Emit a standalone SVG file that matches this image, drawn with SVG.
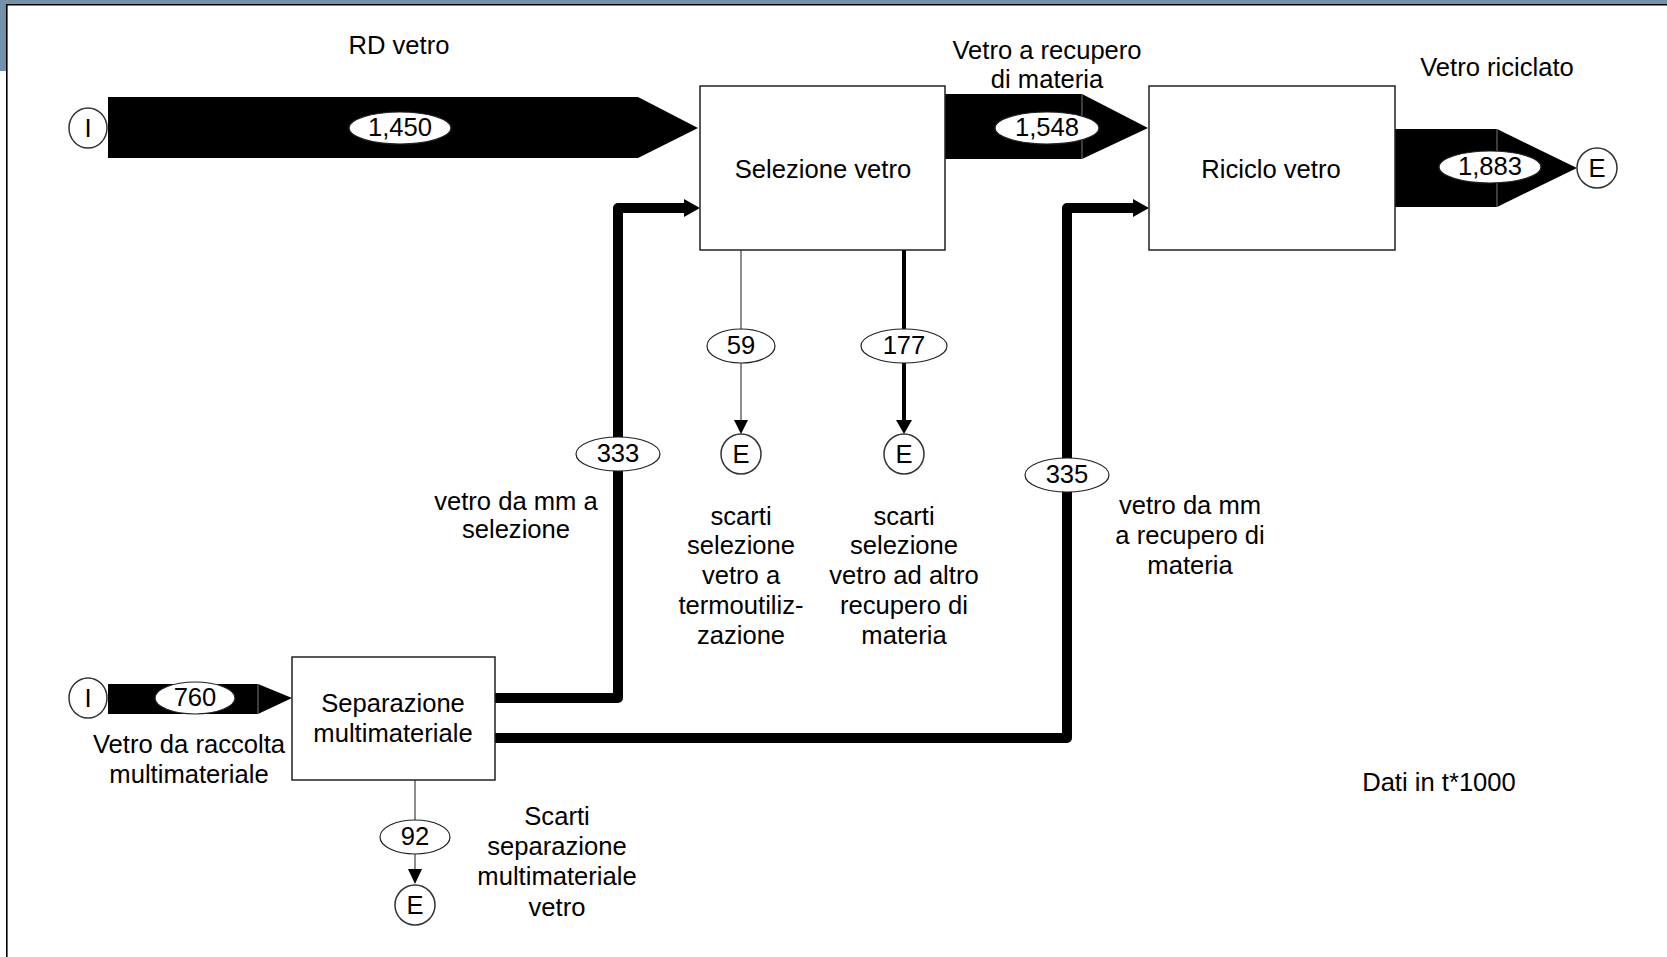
<svg xmlns="http://www.w3.org/2000/svg" width="1667" height="957" viewBox="0 0 1667 957">
  <style>
    text { font-family: "Liberation Sans", Arial, sans-serif; font-size: 25.6px; fill: #000; text-anchor: middle; }
    .box { fill: #fff; stroke: #222; stroke-width: 1.5; }
    .term { fill: #fff; stroke: #333; stroke-width: 1.5; }
    .val { fill: #fff; stroke: #222; stroke-width: 1.2; }
    .band { fill: #000; }
    .seam { stroke: #666; stroke-width: 1.2; }
    .thick { fill: none; stroke: #000; stroke-width: 10; stroke-linejoin: round; }
    .mid { fill: none; stroke: #000; stroke-width: 4; }
    .thin { fill: none; stroke: #666; stroke-width: 1.5; }
    .head { fill: #000; }
  </style>

  <!-- window frame -->
  <rect x="0" y="0" width="1667" height="957" fill="#fff"/>
  <rect x="0" y="0" width="1667" height="4" fill="#7590a9"/>
  <rect x="0" y="0" width="6" height="71" fill="#7590a9"/>
  <line x1="6" y1="4.8" x2="1667" y2="4.8" stroke="#000" stroke-width="1.6"/>
  <line x1="6.8" y1="4" x2="6.8" y2="957" stroke="#000" stroke-width="1.6"/>

  <!-- flows -->
  <g id="connectors">
    <!-- RD vetro -->
    <polygon class="band" points="108,97 638,97 698,128 638,158 108,158"/>
    <!-- Vetro a recupero di materia -->
    <polygon class="band" points="945,94 1082,94 1148,128 1082,159 945,159"/>
    <line class="seam" x1="1082" y1="94" x2="1082" y2="159"/>
    <!-- Vetro riciclato -->
    <polygon class="band" points="1395,129 1497,129 1577,168 1497,207 1395,207"/>
    <line class="seam" x1="1497" y1="129" x2="1497" y2="207"/>
    <!-- Vetro da raccolta multimateriale -->
    <polygon class="band" points="108,684 258,684 292,698 258,714 108,714"/>
    <line class="seam" x1="258" y1="684" x2="258" y2="714"/>

    <!-- vetro da mm a selezione -->
    <path class="thick" d="M495,698 H618 V208 H686"/>
    <polygon class="head" points="684,199 700,208 684,217"/>
    <!-- vetro da mm a recupero di materia -->
    <path class="thick" d="M495,738 H1067 V208 H1135"/>
    <polygon class="head" points="1133,199 1149,208 1133,217"/>

    <!-- scarti a termoutilizzazione -->
    <line class="thin" x1="741" y1="250" x2="741" y2="422"/>
    <polygon class="head" points="734,420 748,420 741,434"/>
    <!-- scarti ad altro recupero -->
    <line class="mid" x1="904" y1="250" x2="904" y2="422"/>
    <polygon class="head" points="896,420 912,420 904,434"/>
    <!-- scarti separazione multimateriale -->
    <line class="thin" x1="415" y1="780" x2="415" y2="872"/>
    <polygon class="head" points="408,869 422,869 415,884"/>

    <!-- flow values -->
    <ellipse class="val" cx="400" cy="128" rx="51" ry="16" stroke="none"/>
    <text x="400" y="136">1,450</text>
    <ellipse class="val" cx="1047" cy="128" rx="52" ry="16" stroke="none"/>
    <text x="1047" y="136">1,548</text>
    <ellipse class="val" cx="1490" cy="167" rx="51" ry="16" stroke="none"/>
    <text x="1490" y="175">1,883</text>
    <ellipse class="val" cx="195" cy="698" rx="40" ry="16" stroke="none"/>
    <text x="195" y="706">760</text>
    <ellipse class="val" cx="618" cy="454" rx="42" ry="17"/>
    <text x="618" y="462">333</text>
    <ellipse class="val" cx="1067" cy="475" rx="42" ry="17"/>
    <text x="1067" y="483">335</text>
    <ellipse class="val" cx="741" cy="346" rx="34" ry="17"/>
    <text x="741" y="354">59</text>
    <ellipse class="val" cx="904" cy="346" rx="43" ry="17"/>
    <text x="904" y="354">177</text>
    <ellipse class="val" cx="415" cy="837" rx="35" ry="17"/>
    <text x="415" y="845">92</text>

    <!-- flow labels -->
    <text x="399" y="54">RD vetro</text>
    <text x="1047" y="59">Vetro a recupero</text>
    <text x="1047" y="88">di materia</text>
    <text x="1497" y="76">Vetro riciclato</text>
    <text x="189" y="753">Vetro da raccolta</text>
    <text x="189" y="783">multimateriale</text>
    <text x="516" y="510">vetro da mm a</text>
    <text x="516" y="538">selezione</text>
    <text x="1190" y="514">vetro da mm</text>
    <text x="1190" y="544">a recupero di</text>
    <text x="1190" y="574">materia</text>
    <text x="741" y="525">scarti</text>
    <text x="741" y="554">selezione</text>
    <text x="741" y="584">vetro a</text>
    <text x="741" y="614">termoutiliz-</text>
    <text x="741" y="644">zazione</text>
    <text x="904" y="525">scarti</text>
    <text x="904" y="554">selezione</text>
    <text x="904" y="584">vetro ad altro</text>
    <text x="904" y="614">recupero di</text>
    <text x="904" y="644">materia</text>
    <text x="557" y="825">Scarti</text>
    <text x="557" y="855">separazione</text>
    <text x="557" y="885">multimateriale</text>
    <text x="557" y="916">vetro</text>
  </g>

  <!-- processes -->
  <g id="selezione-vetro">
    <rect class="box" x="700" y="86" width="245" height="164"/>
    <text x="823" y="178">Selezione vetro</text>
  </g>
  <g id="riciclo-vetro">
    <rect class="box" x="1149" y="86" width="246" height="164"/>
    <text x="1271" y="178">Riciclo vetro</text>
  </g>
  <g id="separazione-multimateriale">
    <rect class="box" x="292" y="657" width="203" height="123"/>
    <text x="393" y="712">Separazione</text>
    <text x="393" y="742">multimateriale</text>
  </g>

  <!-- inputs and exits -->
  <g id="input-rd">
    <ellipse class="term" cx="88" cy="128" rx="19" ry="20"/>
    <text x="88" y="137">I</text>
  </g>
  <g id="input-mm">
    <ellipse class="term" cx="88" cy="698" rx="19" ry="20"/>
    <text x="88" y="707">I</text>
  </g>
  <g id="exit-riciclato">
    <circle class="term" cx="1597" cy="168" r="20"/>
    <text x="1597" y="177">E</text>
  </g>
  <g id="exit-termo">
    <circle class="term" cx="741" cy="454" r="20"/>
    <text x="741" y="463">E</text>
  </g>
  <g id="exit-altro">
    <circle class="term" cx="904" cy="454" r="20"/>
    <text x="904" y="463">E</text>
  </g>
  <g id="exit-separazione">
    <circle class="term" cx="415" cy="905" r="20"/>
    <text x="415" y="914">E</text>
  </g>

  <g id="note">
    <text x="1439" y="791">Dati in t*1000</text>
  </g>
</svg>
